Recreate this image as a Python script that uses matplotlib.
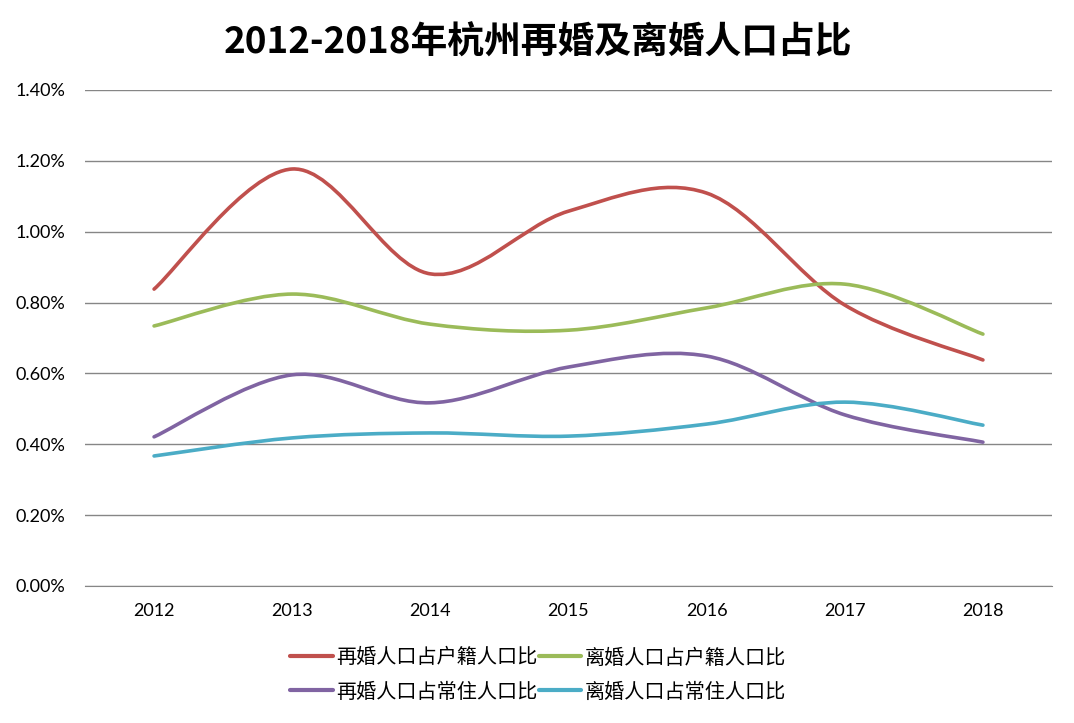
import matplotlib
matplotlib.use("Agg")
import matplotlib.pyplot as plt
import numpy as np
from matplotlib.path import Path
from matplotlib.patches import PathPatch
from matplotlib.lines import Line2D
from matplotlib.ticker import FuncFormatter

plt.rcParams['font.family'] = ['Noto Sans CJK SC', 'DejaVu Sans']

years = ['2012', '2013', '2014', '2015', '2016', '2017', '2018']
remarry_huji = [0.838, 1.177, 0.881, 1.058, 1.109, 0.793, 0.638]
divorce_huji = [0.734, 0.824, 0.739, 0.722, 0.785, 0.852, 0.711]
remarry_changzhu = [0.421, 0.596, 0.517, 0.618, 0.649, 0.483, 0.406]
divorce_changzhu = [0.367, 0.418, 0.432, 0.423, 0.457, 0.519, 0.454]

series_names = ['再婚人口占户籍人口比', '离婚人口占户籍人口比', '再婚人口占常住人口比', '离婚人口占常住人口比']
colors = ['#C0504D', '#9BBB59', '#8064A2', '#4BACC6']
title = '2012-2018年杭州再婚及离婚人口占比'

fig = plt.figure(figsize=(10.74, 7.23), dpi=100)
ax = fig.add_axes([85/1074, 1-586/723, (1052-85)/1074, (586-90)/723])

def smooth_path(xs, ys):
    pts = np.column_stack([xs, ys]).astype(float)
    n = len(pts)
    verts = [pts[0]]
    codes = [Path.MOVETO]
    for i in range(n-1):
        p0 = pts[i-1] if i > 0 else pts[i]
        p1 = pts[i]
        p2 = pts[i+1]
        p3 = pts[i+2] if i+2 < n else pts[i+1]
        c1 = p1 + (p2 - p0)/6.0
        c2 = p2 - (p3 - p1)/6.0
        verts += [c1, c2, p2]
        codes += [Path.CURVE4]*3
    return Path(verts, codes)

xs = np.arange(len(years))
all_series = [remarry_huji, divorce_huji, remarry_changzhu, divorce_changzhu]
for vals, c in zip(all_series, colors):
    p = smooth_path(xs, vals)
    ax.add_patch(PathPatch(p, facecolor='none', edgecolor=c, lw=2.6, capstyle='round', joinstyle='round', zorder=3))

ax.set_xlim(-0.5, len(years)-0.5)
ax.set_ylim(0, 1.4)
ax.set_yticks(np.arange(0, 1.41, 0.2))
ax.yaxis.set_major_formatter(FuncFormatter(lambda v, p: f'{v:.2f}%'))
ax.set_xticks(xs)
ax.set_xticklabels(years)
ax.tick_params(axis='both', length=0, labelsize=13, colors='black')
ax.tick_params(axis='x', pad=12)
ax.tick_params(axis='y', pad=14)
for lab in ax.get_xticklabels() + ax.get_yticklabels():
    lab.set_family(['Lato', 'DejaVu Sans'])
ax.grid(axis='y', color='#868686', lw=1)
ax.set_axisbelow(True)
for s in ['top', 'right', 'left']:
    ax.spines[s].set_visible(False)
ax.spines['bottom'].set_color('#868686')

fig.text(538/1074, 1-43/723, title, ha='center', va='center', fontsize=26.5, fontweight='bold')

order = [0, 2, 1, 3]
handles = [Line2D([0], [0], color=colors[i], lw=3, solid_capstyle='round') for i in order]
labels = [series_names[i] for i in order]
leg = fig.legend(handles, labels, loc='center', bbox_to_anchor=(538/1074, 1-675/723), ncol=2,
                 frameon=False, fontsize=14.5, handlelength=2.1, handletextpad=0.15, columnspacing=0.1,
                 labelspacing=0.65)

fig.savefig('out.png', dpi=100)
